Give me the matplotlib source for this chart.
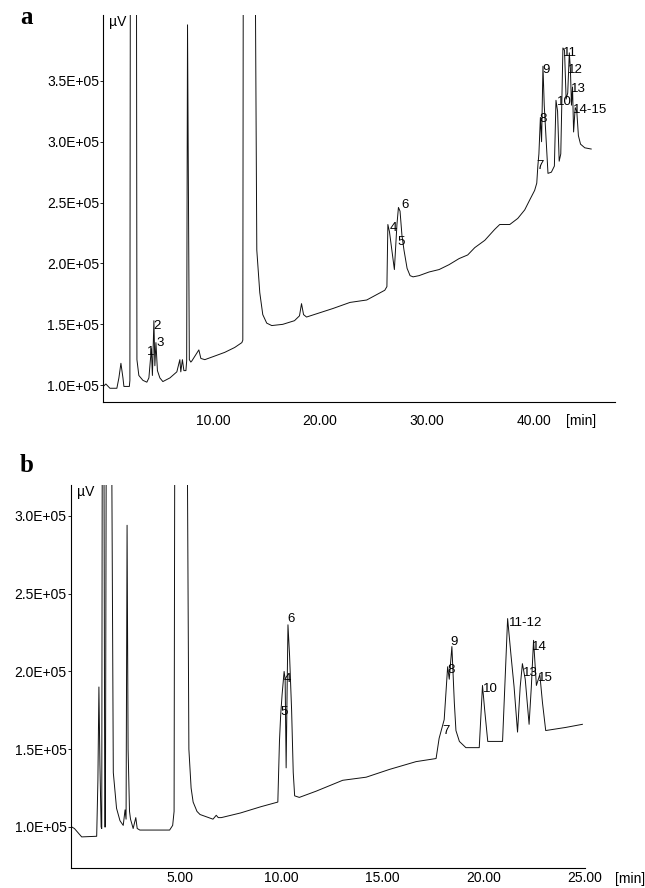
import matplotlib
matplotlib.use('Agg')
from matplotlib import pyplot as plt
from matplotlib.ticker import FuncFormatter
import numpy as np

plt.rcParams['font.family'] = ['Liberation Sans', 'DejaVu Sans']

# Chromatogram a: retention time [min] and signal [1E+05 µV]
tid_a = [-0.32, -0.07, 0.31, 0.96, 1.15, 1.34, 1.53, 1.62, 2.13, 2.18, 2.23,
         2.79, 2.84, 3.02, 3.4, 3.77, 3.96, 4.19, 4.29, 4.43, 4.52, 4.62, 4.76,
         4.99, 5.27, 5.93, 6.58, 6.86, 6.95, 7.1, 7.24, 7.43, 7.5, 7.58, 7.75,
         7.89, 7.99, 8.64, 8.83, 9.2, 10.14, 11.07, 12.0, 12.67, 12.76, 12.81,
         13.89, 14.07, 14.35, 14.63, 15.0, 15.47, 16.5, 17.6, 18.07, 18.26,
         18.45, 18.73, 21.2, 22.8, 24.37, 26.06, 26.26, 26.35, 26.5, 26.96,
         27.2, 27.34, 27.49, 27.67, 27.86, 28.15, 28.43, 28.71, 29.27, 30.21,
         31.15, 32.08, 33.02, 33.83, 34.49, 35.43, 36.36, 36.83, 37.77, 38.52,
         39.17, 39.63, 40.1, 40.3, 40.4, 40.5, 40.64, 40.75, 40.88, 41.0,
         41.35, 41.67, 41.95, 42.1, 42.25, 42.4, 42.55, 42.75, 42.9, 43.05,
         43.2, 43.35, 43.45, 43.55, 43.65, 43.75, 43.9, 44.05, 44.2, 44.4,
         44.8, 45.4]
signal_a = [0.99, 1.01, 0.975, 0.975, 1.06, 1.18, 1.06, 0.99, 0.99, 1.04, 5.0,
            5.0, 1.21, 1.08, 1.04, 1.025, 1.06, 1.30, 1.08, 1.53, 1.16, 1.35,
            1.12, 1.06, 1.03, 1.06, 1.11, 1.21, 1.11, 1.21, 1.12, 1.12, 1.2,
            3.96, 1.21, 1.19, 1.2, 1.29, 1.22, 1.21, 1.24, 1.27, 1.31, 1.35,
            1.37, 5.0, 5.0, 2.11, 1.76, 1.58, 1.51, 1.49, 1.50, 1.53, 1.57,
            1.67, 1.58, 1.56, 1.63, 1.68, 1.70, 1.78, 1.81, 2.32, 2.26, 1.95,
            2.32, 2.46, 2.43, 2.23, 2.11, 1.96, 1.90, 1.89, 1.90, 1.93, 1.95,
            1.99, 2.04, 2.07, 2.13, 2.19, 2.28, 2.32, 2.32, 2.37, 2.44, 2.52,
            2.60, 2.66, 2.80, 2.9, 3.2, 3.0, 3.62, 3.3, 2.74, 2.75, 2.8, 3.34,
            3.25, 2.84, 2.9, 3.77, 3.75, 3.35, 3.4, 3.73, 3.6, 3.3, 3.45, 3.08,
            3.28, 3.25, 3.05, 2.98, 2.95, 2.94]
topp_a = ['1', '2', '3', '4', '5', '6', '7', '8', '9', '10', '11', '12', '13', '14-15']
topp_a_t = [4.1, 4.71, 4.99, 26.9, 27.6, 27.93, 40.63, 40.88, 41.2, 42.9, 43.38, 43.95, 44.2, 45.26]
topp_a_v = [1.27, 1.49, 1.35, 2.29, 2.18, 2.48, 2.80, 3.19, 3.59, 3.33, 3.73, 3.59, 3.43, 3.26]

# Chromatogram b
tid_b = [-0.33, -0.2, 0.16, 0.9, 0.96, 1.01, 1.06, 1.12, 1.15, 1.18, 1.25,
         1.3, 1.33, 1.38, 1.62, 1.72, 1.88, 2.05, 2.21, 2.3, 2.35, 2.4, 2.45,
         2.52, 2.57, 2.7, 2.83, 2.9, 3.03, 4.5, 4.65, 4.72, 4.76, 5.35, 5.45,
         5.56, 5.66, 5.85, 6.0, 6.64, 6.8, 6.9, 7.05, 8.0, 9.0, 9.84, 9.92,
         9.98, 10.05, 10.15, 10.2, 10.25, 10.3, 10.34, 10.42, 10.52, 10.6,
         10.67, 10.9, 11.73, 13.04, 14.2, 15.35, 16.66, 17.65, 17.8, 18.05,
         18.22, 18.3, 18.43, 18.55, 18.63, 18.8, 19.12, 19.78, 19.94, 20.05,
         20.2, 20.93, 21.18, 21.35, 21.5, 21.67, 21.8, 21.91, 22.05, 22.24,
         22.35, 22.46, 22.6, 22.77, 22.9, 23.06, 24.05, 24.87]
signal_b = [1.0, 0.99, 0.936, 0.94, 1.3, 1.9, 1.4, 1.0, 0.99, 4.0, 4.0, 1.0,
            1.0, 4.0, 4.0, 1.35, 1.12, 1.04, 1.01, 1.11, 1.05, 2.94, 1.5, 1.1,
            1.05, 0.99, 1.06, 0.99, 0.98, 0.98, 1.01, 1.1, 4.0, 4.0, 1.5, 1.25,
            1.16, 1.1, 1.08, 1.05, 1.075, 1.06, 1.06, 1.09, 1.13, 1.16, 1.55,
            1.72, 1.85, 2.0, 1.95, 1.38, 1.9, 2.30, 2.1, 1.75, 1.35, 1.2, 1.19,
            1.23, 1.30, 1.32, 1.37, 1.42, 1.44, 1.57, 1.69, 2.03, 1.95, 2.16,
            1.8, 1.62, 1.55, 1.51, 1.51, 1.91, 1.75, 1.55, 1.55, 2.34, 2.10,
            1.9, 1.61, 1.9, 2.05, 1.95, 1.66, 1.9, 2.20, 1.91, 1.98, 1.8, 1.62,
            1.64, 1.66]
topp_b = ['5', '4', '6', '7', '8', '9', '10', '11-12', '13', '14', '15']
topp_b_t = [10.14, 10.29, 10.5, 18.14, 18.38, 18.55, 20.35, 22.08, 22.32, 22.73, 23.06]
topp_b_v = [1.74, 1.95, 2.34, 1.62, 2.01, 2.19, 1.89, 2.31, 1.99, 2.16, 1.96]


def tegn(ax, tid, signal, topp, topp_t, topp_v, xlim, ylim, yticks, xticks, xpad):
    ax.plot(tid, np.array(signal) * 1e5, color='#111111', lw=0.7)
    for navn, t, v in zip(topp, topp_t, topp_v):
        ax.text(t, v * 1e5, navn, ha='center', va='center', fontsize=9.5)
    ax.set_xlim(*xlim)
    ax.set_ylim(ylim[0] * 1e5, ylim[1] * 1e5)
    ax.set_yticks(np.array(yticks) * 1e5)
    ax.set_xticks(xticks)
    ax.yaxis.set_major_formatter(FuncFormatter(lambda v, p: f'{v:.1E}'))
    ax.xaxis.set_major_formatter(FuncFormatter(lambda v, p: f'{v:.2f}'))
    ax.spines['top'].set_visible(False)
    ax.spines['right'].set_visible(False)
    ax.spines['left'].set_linewidth(0.8)
    ax.spines['bottom'].set_linewidth(0.8)
    ax.tick_params(axis='y', length=2, width=0.6, pad=1, labelsize=10)
    ax.tick_params(axis='x', length=0, pad=xpad, labelsize=10)
    ax.text(0.012, 1.0, 'µV', transform=ax.transAxes, ha='left', va='top', fontsize=10)


fig = plt.figure(figsize=(6.45, 8.88), dpi=100)
ax_a = fig.add_axes([0.160, 0.547, 0.793, 0.436])
ax_b = fig.add_axes([0.110, 0.022, 0.797, 0.432])

tegn(ax_a, tid_a, signal_a, topp_a, topp_a_t, topp_a_v,
     (-0.32, 47.6), (0.86, 4.04), [1.0, 1.5, 2.0, 2.5, 3.0, 3.5], [10, 20, 30, 40], 8.5)
tegn(ax_b, tid_b, signal_b, topp_b, topp_b_t, topp_b_v,
     (-0.37, 24.95), (0.733, 3.20), [1.0, 1.5, 2.0, 2.5, 3.0], [5, 10, 15, 20, 25], 1.5)

fig.text(581 / 645, 1 - 421 / 888, '[min]', ha='center', va='center', fontsize=10)
fig.text(630 / 645, 1 - 879 / 888, '[min]', ha='center', va='center', fontsize=10)

fig.text(20 / 645, 1 - 18 / 888, 'a', family='Liberation Serif', weight='bold',
         fontsize=18, ha='left', va='center')
fig.text(20 / 645, 1 - 465 / 888, 'b', family='Liberation Serif', weight='bold',
         fontsize=18, ha='left', va='center')

fig.savefig('out.png', dpi=100)
